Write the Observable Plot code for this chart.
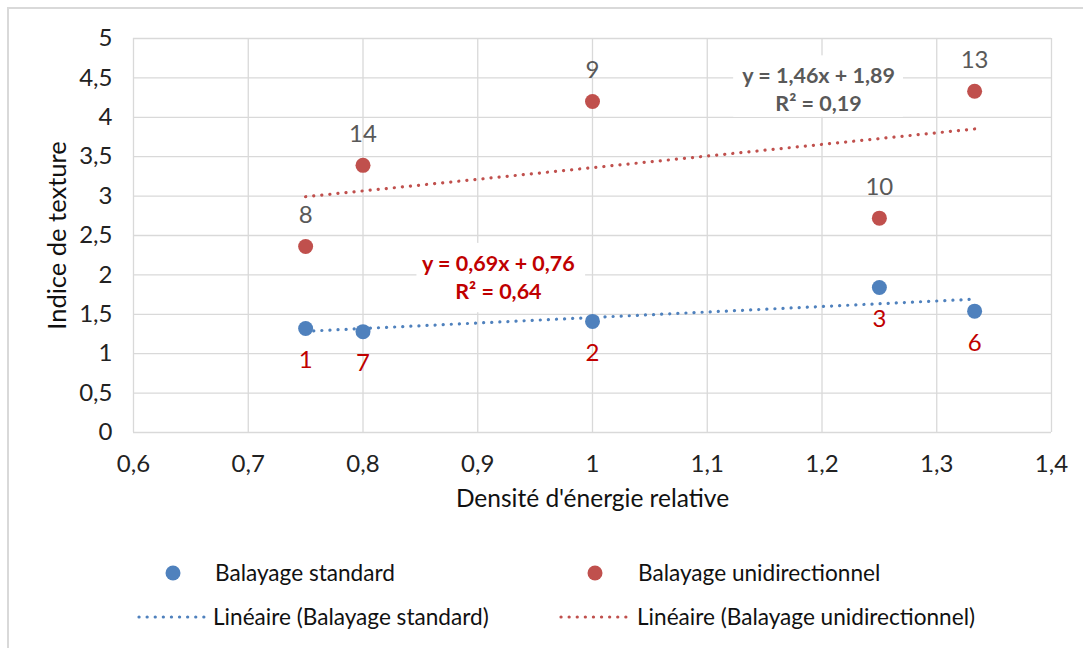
<!DOCTYPE html>
<html>
<head>
<meta charset="utf-8">
<script src="https://cdn.jsdelivr.net/npm/d3@7"></script>
<script src="https://cdn.jsdelivr.net/npm/@observablehq/plot@0.6"></script>
<style>
  html, body { margin: 0; padding: 0; background: #fff; }
  #wrap { position: relative; width: 1083px; height: 648px; overflow: hidden; font-family: Lato, "Open Sans", sans-serif; }
  #frame { position: absolute; left: 7px; top: 7px; width: 1200px; height: 800px; border-top: 2px solid #d9d9d9; border-left: 2px solid #d9d9d9; box-sizing: border-box; }
  #chart { position: absolute; left: 0; top: 0; }
  .leg { position: absolute; font-size: 22.6px; color: #111; white-space: nowrap; line-height: 1; transform: translateY(-50%); }
  .dot { position: absolute; width: 15px; height: 15px; border-radius: 50%; transform: translate(-50%, -50%); }
  .ln { position: absolute; transform: translateY(-50%); }
</style>
</head>
<body>
<div id="wrap">
  <div id="frame"></div>
  <div id="chart"></div>
  <div id="legend"></div>
</div>
<script>
// ---- data ----
const xValues = [0.75, 0.8, 1.0, 1.25, 1.333];
const standardY = [1.32, 1.28, 1.41, 1.84, 1.54];
const standardLabels = ["1", "7", "2", "3", "6"];
const unidirY = [2.36, 3.39, 4.20, 2.72, 4.33];
const unidirLabels = ["8", "14", "9", "10", "13"];
const xTicks = [0.6, 0.7, 0.8, 0.9, 1.0, 1.1, 1.2, 1.3, 1.4];
const yTicks = [0, 0.5, 1, 1.5, 2, 2.5, 3, 3.5, 4, 4.5, 5];
const seriesNames = ["Balayage standard", "Balayage unidirectionnel"];
const trendNames = ["Linéaire (Balayage standard)", "Linéaire (Balayage unidirectionnel)"];
const eqStandard = ["y = 0,69x + 0,76", "R² = 0,64"];
const eqUnidir = ["y = 1,46x + 1,89", "R² = 0,19"];
const xTitle = "Densité d'énergie relative";
const yTitle = "Indice de texture";

const blue = "#4f81bd", red = "#c0504d", labRed = "#c00000", grey = "#595959";
const fmt = d => String(+d.toFixed(2)).replace(".", ",");

const standard = xValues.map((x, i) => ({x, y: standardY[i], label: standardLabels[i]}));
const unidir = xValues.map((x, i) => ({x, y: unidirY[i], label: unidirLabels[i]}));

// equation annotation boxes (data coordinates)
const eqBoxes = [
  {x1: 0.847, x2: 0.994, y1: 1.52, y2: 2.40, xc: 0.918, yc: 1.985, text: eqStandard.join("\n"), color: labRed},
  {x1: 1.123, x2: 1.271, y1: 4.00, y2: 4.78, xc: 1.197, yc: 4.37, text: eqUnidir.join("\n"), color: grey}
];

const dotted = {strokeDasharray: "0.1 8", strokeLinecap: "round", strokeWidth: 3.2};

const chart = Plot.plot({
  width: 1083,
  height: 530,
  marginLeft: 133,
  marginRight: 32,
  marginTop: 38,
  marginBottom: 98,
  style: {fontFamily: "Lato, 'Open Sans', sans-serif", background: "transparent", overflow: "visible"},
  x: {domain: [0.6, 1.4]},
  y: {domain: [0, 5]},
  marks: [
    Plot.gridX(xTicks, {stroke: "#d9d9d9", strokeOpacity: 1, strokeWidth: 1.3}),
    Plot.gridY(yTicks, {stroke: "#d9d9d9", strokeOpacity: 1, strokeWidth: 1.3}),
    Plot.axisX(xTicks, {tickSize: 0, tickPadding: 22, tickFormat: fmt, fontSize: 24, fill: "#222", label: null}),
    Plot.axisY(yTicks, {tickSize: 0, tickPadding: 21, tickFormat: fmt, fontSize: 24, fill: "#222", label: null}),
    Plot.text([xTitle], {frameAnchor: "bottom", dy: 74, text: d => d, fontSize: 24.5, fill: "#111"}),
    Plot.text([yTitle], {frameAnchor: "left", textAnchor: "middle", dx: -76, rotate: -90, text: d => d, fontSize: 25.5, fill: "#111"}),
    Plot.rect(eqBoxes, {x1: "x1", x2: "x2", y1: "y1", y2: "y2", fill: "white"}),
    Plot.linearRegressionY(standard, {x: "x", y: "y", stroke: blue, ci: 0, ...dotted}),
    Plot.linearRegressionY(unidir, {x: "x", y: "y", stroke: red, ci: 0, ...dotted}),
    Plot.dot(standard, {x: "x", y: "y", r: 7.5, fill: blue}),
    Plot.dot(unidir, {x: "x", y: "y", r: 7.5, fill: red}),
    Plot.text(standard, {x: "x", y: "y", text: "label", dy: 32, fontSize: 24, fill: labRed}),
    Plot.text(unidir, {x: "x", y: "y", text: "label", dy: -31, fontSize: 24, fill: grey}),
    Plot.text(eqBoxes, {x: "xc", y: "yc", text: "text", fill: "color", fontSize: 21.5, fontWeight: "bold", lineHeight: 1.32})
  ]
});
document.getElementById("chart").appendChild(chart);

// ---- legend ----
const legend = document.getElementById("legend");
const items = [
  {type: "dot", color: blue, cx: 173, cy: 573, text: seriesNames[0], tx: 215},
  {type: "dot", color: red, cx: 595, cy: 573, text: seriesNames[1], tx: 638},
  {type: "line", color: blue, lx: 136, lw: 72, cy: 617, text: trendNames[0], tx: 213},
  {type: "line", color: red, lx: 558, lw: 72, cy: 617, text: trendNames[1], tx: 637}
];
items.forEach(it => {
  if (it.type === "dot") {
    const d = document.createElement("div");
    d.className = "dot";
    d.style.left = it.cx + "px"; d.style.top = it.cy + "px"; d.style.background = it.color;
    legend.appendChild(d);
  } else {
    const ns = "http://www.w3.org/2000/svg";
    const s = document.createElementNS(ns, "svg");
    s.setAttribute("class", "ln");
    s.setAttribute("width", it.lw); s.setAttribute("height", 8);
    s.style.left = it.lx + "px"; s.style.top = it.cy + "px";
    const l = document.createElementNS(ns, "line");
    l.setAttribute("x1", 3); l.setAttribute("x2", it.lw - 2); l.setAttribute("y1", 4); l.setAttribute("y2", 4);
    l.setAttribute("stroke", it.color); l.setAttribute("stroke-width", 3.2);
    l.setAttribute("stroke-dasharray", "0.1 8"); l.setAttribute("stroke-linecap", "round");
    s.appendChild(l);
    legend.appendChild(s);
  }
  const t = document.createElement("div");
  t.className = "leg";
  t.textContent = it.text;
  t.style.left = it.tx + "px"; t.style.top = it.cy + "px";
  legend.appendChild(t);
});
</script>
</body>
</html>
